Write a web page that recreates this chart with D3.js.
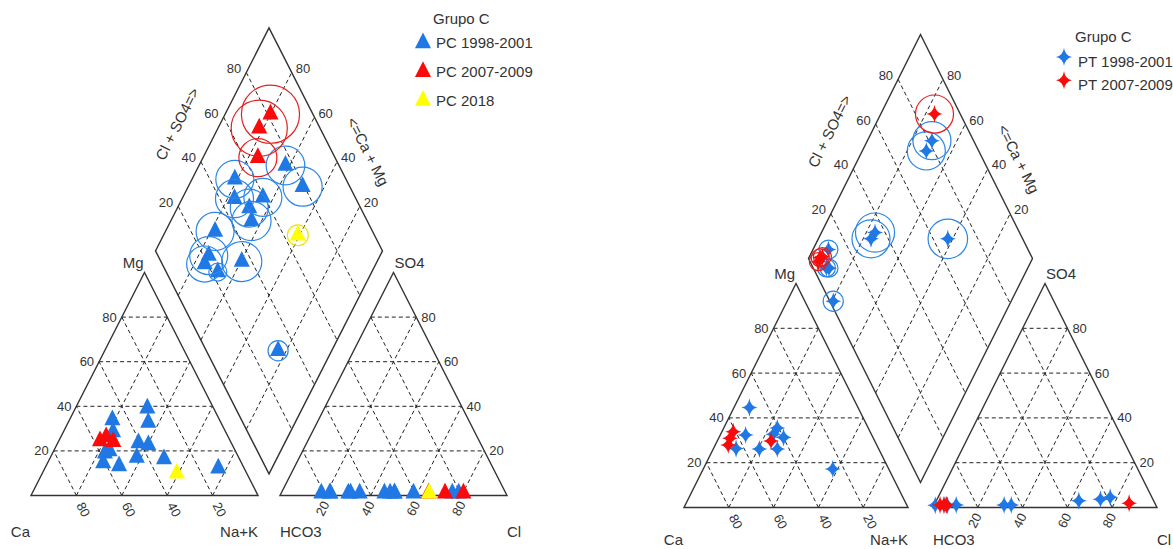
<!DOCTYPE html>
<html>
<head>
<meta charset="utf-8">
<script src="https://cdn.jsdelivr.net/npm/d3@7"></script>
<style>
  body { margin: 0; background: #fff; }
  svg text { font-family: Arial, "Liberation Sans", sans-serif; fill: #333; }
</style>
</head>
<body>
<svg id="chart" width="1173" height="549"></svg>
<script>
// each row: [Ca, Mg, Cl, SO4] in % meq/L, then TDS (mg/L) for the circle
const pc1998 = [
    [44.9, 17.0, 75.4, 1, 460],
    [33.2, 16.4, 78.2, 1, 470],
    [47.2, 33.9, 50.0, 1, 445],
    [58.0, 18.9, 45.5, 1, 445],
    [32.0, 32.7, 58.3, 1, 445],
    [29.2, 39.1, 49.9, 1, 445],
    [40.9, 23.5, 48.0, 1, 470],
    [49.6, 28.5, 29.6, 1, 445],
    [60.9, 14.6, 21.4, 1, 445],
    [55.4, 20.0, 17.7, 1, 400],
    [54.6, 13.2, 21.7, 1, 100],
    [37.0, 22.6, 34.6, 1, 495],
    [11.4, 12.2, 30.6, 1, 125]
];
const pc2007 = [
    [57.4, 24.4, 72.2, 1, 970],
    [53.8, 26.2, 80.3, 1, 1040],
    [51.7, 24.1, 65.0, 1, 445]
];
const pc2018 = [
    [30.8, 10.0, 65.2, 1, 135]
];
const pt1998 = [
    [48.5, 44.6, 9.8, 1.1, 110],
    [56.3, 32.4, 6.0, 1.0, 100],
    [40.6, 35.5, 34.4, 1.1, 470],
    [43.8, 32.7, 31.2, 1.1, 445],
    [39.9, 31.3, 76.8, 4.6, 445],
    [45.3, 26.1, 72.9, 3.7, 445],
    [53.3, 26.1, 0.5, 1.0, 125],
    [63.6, 26.3, 4.8, 1.1, 100],
    [25.0, 17.2, 63.6, 3.0, 480]
];
const pt2007 = [
    [61.1, 33.8, 2.6, 1.1, 100],
    [64.0, 30.9, 4.3, 1.1, 100],
    [66.3, 27.9, 5.5, 1.1, 100],
    [46.3, 29.7, 86.6, 1.9, 445]
];
const gridTicks = [20, 40, 60, 80];
const legendTitle = "Grupo C";

const blue = "#1f78e4", red = "#fa0a0a", yellow = "#ffff00";

const svg = d3.select("#chart");
svg.append("rect").attr("width", 1173).attr("height", 549).attr("fill", "#fff");

const rScale = d3.scaleSqrt().domain([0, 1000]).range([0, 28.5]);
const triPath = d3.symbol(d3.symbolTriangle, 112)();
const starPath = "M0,-8Q1.2,-1.2 8,0Q1.2,1.2 0,8Q-1.2,1.2 -8,0Q-1.2,-1.2 0,-8Z";

function drawPiper(cfg, series) {
    const h = Math.sqrt(3) / 2;
    const gap = cfg.gap / cfg.width;
    const x = d3.scaleLinear().domain([0, 1]).range([cfg.left, cfg.left + cfg.width]);
    const y = d3.scaleLinear().domain([0, h]).range([cfg.base, cfg.base - cfg.height]);

    // ternary -> pixel for each of the three fields
    const cat = (ca, mg) => [x((100 - ca - mg + mg / 2) / 100), y(mg / 100 * h)];
    const ani = (cl, so4) => [x(1 + gap + (cl + so4 / 2) / 100), y(so4 / 100 * h)];
    const dia = (na, cs) => [x((na / 100 + 1 + gap + cs / 100) / 2), y(h * (1 + gap + cs / 100 - na / 100))];

    const g = svg.append("g");
    const line = d3.line();

    const grid = [];
    gridTicks.forEach(v => {
        grid.push([cat(100 - v, v), cat(0, v)]);
        grid.push([cat(v, 0), cat(v, 100 - v)]);
        grid.push([cat(100 - v, 0), cat(0, 100 - v)]);
        grid.push([ani(0, v), ani(100 - v, v)]);
        grid.push([ani(v, 0), ani(v, 100 - v)]);
        grid.push([ani(100 - v, 0), ani(0, 100 - v)]);
        grid.push([dia(v, 0), dia(v, 100)]);
        grid.push([dia(0, v), dia(100, v)]);
    });
    g.selectAll(".grid").data(grid).enter().append("path")
        .attr("d", line)
        .attr("fill", "none")
        .attr("stroke", "#222")
        .attr("stroke-width", 1)
        .attr("stroke-dasharray", "4,3");

    const outlines = [
        [cat(100, 0), cat(0, 0), cat(0, 100)],
        [ani(0, 0), ani(100, 0), ani(0, 100)],
        [dia(0, 0), dia(100, 0), dia(100, 100), dia(0, 100)]
    ];
    g.selectAll(".outline").data(outlines).enter().append("path")
        .attr("d", d => line(d) + "Z")
        .attr("fill", "none")
        .attr("stroke", "#333")
        .attr("stroke-width", 1.4);

    // tick labels
    gridTicks.forEach(v => {
        let p = cat(100 - v, v);
        g.append("text").attr("x", p[0] - 5).attr("y", p[1]).attr("dy", "0.35em")
            .attr("text-anchor", "end").attr("font-size", 13).text(v);
        p = cat(v, 0);
        g.append("text").attr("text-anchor", "middle").attr("dy", "0.35em").attr("font-size", 13)
            .attr("transform", `translate(${p[0] + 7},${p[1] + 14}) rotate(63)`).text(v);
        p = ani(100 - v, v);
        g.append("text").attr("x", p[0] + 5).attr("y", p[1]).attr("dy", "0.35em")
            .attr("font-size", 13).text(v);
        p = ani(v, 0);
        g.append("text").attr("text-anchor", "middle").attr("dy", "0.35em").attr("font-size", 13)
            .attr("transform", `translate(${p[0] - 3},${p[1] + 13}) rotate(-63)`).text(v);
        p = dia(0, v);
        g.append("text").attr("x", p[0] - 5).attr("y", p[1] - 4).attr("dy", "0.35em")
            .attr("text-anchor", "end").attr("font-size", 13).text(v);
        p = dia(100 - v, 100);
        g.append("text").attr("x", p[0] + 4).attr("y", p[1] - 4).attr("dy", "0.35em")
            .attr("font-size", 13).text(v);
    });

    // corner names
    const names = [
        { t: "Ca", p: cat(100, 0), dx: -1, dy: cfg.nameDy, a: "end" },
        { t: "Na+K", p: cat(0, 0), dx: 0, dy: cfg.nameDy, a: "end" },
        { t: "HCO3", p: ani(0, 0), dx: 0, dy: cfg.nameDy, a: "start" },
        { t: "Cl", p: ani(100, 0), dx: 0, dy: cfg.nameDy, a: "start" },
        { t: "Mg", p: cat(0, 100), dx: -1, dy: -5, a: "end" },
        { t: "SO4", p: ani(0, 100), dx: 1, dy: -5, a: "start" }
    ];
    names.forEach(n => {
        g.append("text").attr("x", n.p[0] + n.dx).attr("y", n.p[1] + n.dy)
            .attr("text-anchor", n.a).attr("font-size", 15).text(n.t);
    });

    // diamond edge titles, placed along the upper edges
    const edgeLabel = (p0, p1, txt, along, out, sign) => {
        const dx = p1[0] - p0[0], dy = p1[1] - p0[1], len = Math.hypot(dx, dy);
        const ux = dx / len, uy = dy / len;
        const nx = sign * uy, ny = -sign * ux;
        const cx = (p0[0] + p1[0]) / 2 + ux * along + nx * out;
        const cy = (p0[1] + p1[1]) / 2 + uy * along + ny * out;
        const ang = Math.atan2(dy, dx) * 180 / Math.PI;
        g.append("text").attr("text-anchor", "middle").attr("dy", "0.35em").attr("font-size", 15)
            .attr("transform", `translate(${cx},${cy}) rotate(${ang})`).text(txt);
    };
    edgeLabel(dia(0, 0), dia(0, 100), "Cl + SO4=>", -2, 38, 1);
    edgeLabel(dia(0, 100), dia(100, 100), "<=Ca + Mg", 30, 32, 1);

    // samples
    series.forEach(s => {
        const pts = s.rows.map(r => ({
            c: cat(r[0], r[1]),
            a: ani(r[2], r[3]),
            d: dia(100 - r[0] - r[1], r[2] + r[3]),
            tds: r[4]
        }));
        const marks = [];
        pts.forEach(p => { marks.push(p.c, p.a, p.d); });
        g.append("g").selectAll("path").data(marks).enter().append("path")
            .attr("d", cfg.marker)
            .attr("transform", d => `translate(${d[0]},${d[1]}) scale(1,1.13)`)
            .attr("fill", s.color);
        g.append("g").selectAll("circle").data(pts).enter().append("circle")
            .attr("cx", d => d.d[0])
            .attr("cy", d => d.d[1])
            .attr("r", d => rScale(d.tds))
            .attr("fill", "none")
            .attr("stroke", s.ring)
            .attr("stroke-width", 1.2);
    });

    // legend
    const lg = svg.append("g");
    lg.append("text").attr("x", cfg.legend.x + cfg.legend.titleDx).attr("y", cfg.legend.titleY)
        .attr("font-size", 15).text(legendTitle);
    series.forEach((s, i) => {
        const ly = cfg.legend.y + i * cfg.legend.step;
        lg.append("path").attr("d", cfg.marker)
            .attr("transform", `translate(${cfg.legend.x},${ly}) scale(1,1.13)`)
            .attr("fill", s.color);
        lg.append("text").attr("x", cfg.legend.x + cfg.legend.textDx).attr("y", ly + cfg.legend.textDy)
            .attr("font-size", 15).text(s.name);
    });
}

drawPiper(
    { left: 31, base: 495.5, width: 227, height: 223, gap: 22, marker: triPath, nameDy: 41,
      legend: { x: 423, y: 43, step: 28.8, titleDx: 10, titleY: 24, textDx: 13, textDy: 5 } },
    [
        { name: "PC 1998-2001", rows: pc1998, color: blue, ring: "#2b86e8" },
        { name: "PC 2007-2009", rows: pc2007, color: red, ring: "#e61e1e" },
        { name: "PC 2018", rows: pc2018, color: yellow, ring: "#f2e400" }
    ]
);
drawPiper(
    { left: 684, base: 507.5, width: 224, height: 224, gap: 25, marker: starPath, nameDy: 37,
      legend: { x: 1064, y: 57, step: 23.3, titleDx: 11, titleY: 42, textDx: 14, textDy: 10 } },
    [
        { name: "PT 1998-2001", rows: pt1998, color: blue, ring: "#2b86e8" },
        { name: "PT 2007-2009", rows: pt2007, color: red, ring: "#e61e1e" }
    ]
);
</script>
</body>
</html>
